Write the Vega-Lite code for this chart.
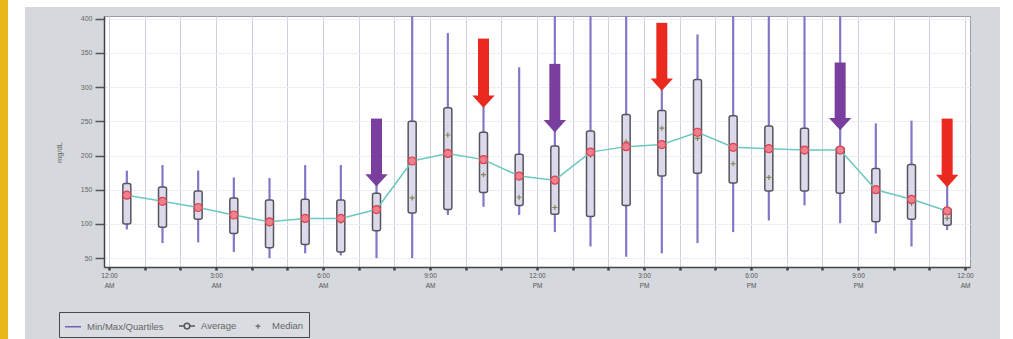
{
  "$schema": "https://vega.github.io/schema/vega-lite/v6.json",
  "background": "#d5d8dd",
  "padding": 0,
  "bounds": "flush",
  "spacing": 0,
  "config": {"font": "Liberation Sans", "view": {"stroke": null}},
  "datasets": {
    "hours": [
      {"t": 0.5, "min": 92, "q1": 100, "med": 140, "q3": 159, "max": 178, "mean": 142},
      {"t": 1.5, "min": 72, "q1": 95, "med": 133, "q3": 154, "max": 186, "mean": 133},
      {"t": 2.5, "min": 73, "q1": 107, "med": 125, "q3": 148, "max": 178, "mean": 124},
      {"t": 3.5, "min": 59, "q1": 86, "med": 112, "q3": 138, "max": 168, "mean": 113},
      {"t": 4.5, "min": 50, "q1": 65, "med": 100, "q3": 135, "max": 167, "mean": 103},
      {"t": 5.5, "min": 57, "q1": 70, "med": 106, "q3": 136, "max": 186, "mean": 108},
      {"t": 6.5, "min": 54, "q1": 59, "med": 104, "q3": 135, "max": 186, "mean": 108},
      {"t": 7.5, "min": 50, "q1": 90, "med": 118, "q3": 145, "max": 170, "mean": 121},
      {"t": 8.5, "min": 50, "q1": 116, "med": 138, "q3": 250, "max": 420, "mean": 192},
      {"t": 9.5, "min": 113, "q1": 121, "med": 230, "q3": 270, "max": 379, "mean": 203},
      {"t": 10.5, "min": 125, "q1": 146, "med": 172, "q3": 234, "max": 300, "mean": 194},
      {"t": 11.5, "min": 113, "q1": 127, "med": 139, "q3": 202, "max": 329, "mean": 170},
      {"t": 12.5, "min": 88, "q1": 114, "med": 124, "q3": 214, "max": 420, "mean": 164},
      {"t": 13.5, "min": 67, "q1": 111, "med": 200, "q3": 236, "max": 420, "mean": 205},
      {"t": 14.5, "min": 52, "q1": 127, "med": 220, "q3": 260, "max": 420, "mean": 213},
      {"t": 15.5, "min": 57, "q1": 170, "med": 240, "q3": 266, "max": 330, "mean": 216},
      {"t": 16.5, "min": 72, "q1": 174, "med": 225, "q3": 311, "max": 377, "mean": 234},
      {"t": 17.5, "min": 88, "q1": 160, "med": 188, "q3": 258, "max": 420, "mean": 212},
      {"t": 18.5, "min": 105, "q1": 148, "med": 168, "q3": 243, "max": 420, "mean": 210},
      {"t": 19.5, "min": 127, "q1": 148, "med": 205, "q3": 240, "max": 420, "mean": 208},
      {"t": 20.5, "min": 101, "q1": 145, "med": 208, "q3": 212, "max": 420, "mean": 208},
      {"t": 21.5, "min": 86, "q1": 103, "med": 148, "q3": 181, "max": 247, "mean": 150},
      {"t": 22.5, "min": 67, "q1": 107, "med": 130, "q3": 187, "max": 251, "mean": 136},
      {"t": 23.5, "min": 91, "q1": 98, "med": 108, "q3": 123, "max": 170, "mean": 119}
    ],
    "arrows": [
      {"t": 7.5, "kind": "meal", "top": 254, "tip": 155},
      {"t": 10.5, "kind": "post-meal", "top": 371, "tip": 270},
      {"t": 12.5, "kind": "meal", "top": 334, "tip": 234},
      {"t": 15.5, "kind": "post-meal", "top": 394, "tip": 295},
      {"t": 20.5, "kind": "meal", "top": 336, "tip": 237},
      {"t": 23.5, "kind": "post-meal", "top": 254, "tip": 154}
    ],
    "target": [{"low": 80, "high": 130}]
  },
  "hconcat": [
    {"width": 8, "height": 339, "data": {"values": [{}]}, "mark": {"type": "point", "opacity": 0}, "view": {"fill": "#e8b81b", "stroke": null}},
    {"width": 17, "height": 339, "data": {"values": [{}]}, "mark": {"type": "point", "opacity": 0}, "view": {"fill": "#ffffff", "stroke": null}},
    {
      "bounds": "flush",
      "spacing": 9,
      "vconcat": [
        {"width": 975, "height": 7, "data": {"values": [{}]}, "mark": {"type": "point", "opacity": 0}, "view": {"fill": "#ffffff", "stroke": null}},
        {
          "bounds": "flush",
          "spacing": 78,
          "hconcat": [
            {"width": 1, "height": 251, "data": {"values": [{}]}, "mark": {"type": "point", "opacity": 0}, "view": {"stroke": null}},
            {
              "width": 866,
              "height": 251,
              "view": {"stroke": "#9c9ca4", "fill": "#ffffff"},
              "encoding": {
                "x": {
                  "field": "t", "type": "quantitative", "title": null,
                  "scale": {"domain": [0, 24], "nice": false, "zero": false},
                  "axis": {
                    "values": [0,1,2,3,4,5,6,7,8,9,10,11,12,13,14,15,16,17,18,19,20,21,22,23,24],
                    "tickCount": 30,
                    "labelExpr": "datum.value % 3 == 0 ? [(datum.value % 12 == 0 ? '12' : '' + (datum.value % 12)) + ':00', (datum.value % 24) < 12 ? 'AM' : 'PM'] : ''",
                    "labelFontSize": 6.5, "labelColor": "#555555", "labelLineHeight": 10, "labelPadding": 2,
                    "labelFlush": false, "labelOverlap": false,
                    "tickSize": 3, "tickWidth": 2.5, "tickColor": "#444444",
                    "domainColor": "#444444", "domainWidth": 1.5,
                    "grid": true, "gridColor": "#d0d0dc", "gridWidth": 1
                  }
                }
              },
              "layer": [
                {
                  "data": {"name": "target"},
                  "mark": {"type": "rect", "color": "#acd9a6"},
                  "encoding": {
                    "x": {"datum": 0, "type": "quantitative", "title": null, "scale": {"domain": [0, 24], "nice": false, "zero": false}},
                    "x2": {"datum": 24},
                    "y": {
                      "field": "low", "type": "quantitative", "title": "mg/dL",
                      "scale": {"domain": [37, 404], "nice": false, "zero": false},
                      "axis": {
                        "values": [50, 100, 150, 200, 250, 300, 350, 400],
                        "tickCount": 10,
                        "labelOverlap": false, "labelBound": false,
                        "tickSize": 9, "tickWidth": 1.5, "tickColor": "#555555",
                        "labelFontSize": 7, "labelColor": "#666666", "labelPadding": 3,
                        "domainColor": "#444444", "domainWidth": 1.5,
                        "grid": true, "gridColor": "#ededf2",
                        "titleFontSize": 7.5, "titleFontWeight": "normal", "titleColor": "#666666",
                        "titleX": -45, "titleY": 136, "titleBaseline": "middle", "titleAlign": "center"
                      }
                    },
                    "y2": {"field": "high"}
                  }
                },
                {
                  "data": {"name": "hours"},
                  "mark": {"type": "rule", "color": "#8179c8", "strokeWidth": 2.2, "clip": true},
                  "encoding": {
                    "y": {"field": "min", "type": "quantitative", "title": "mg/dL", "scale": {"domain": [37, 404], "nice": false, "zero": false}},
                    "y2": {"field": "max"}
                  }
                },
                {
                  "data": {"name": "hours"},
                  "mark": {"type": "bar", "width": 8, "fill": "#dcd9ea", "stroke": "#55555f", "strokeWidth": 1.5, "cornerRadius": 2},
                  "encoding": {
                    "y": {"field": "q1", "type": "quantitative", "title": "mg/dL", "scale": {"domain": [37, 404], "nice": false, "zero": false}},
                    "y2": {"field": "q3"}
                  }
                },
                {
                  "data": {"name": "hours"},
                  "mark": {"type": "line", "color": "#6cc8c0", "strokeWidth": 1.5},
                  "encoding": {
                    "y": {"field": "mean", "type": "quantitative", "title": "mg/dL", "scale": {"domain": [37, 404], "nice": false, "zero": false}}
                  }
                },
                {
                  "data": {"name": "hours"},
                  "mark": {"type": "point", "shape": "M-1,0H1M0,-1V1", "size": 25, "filled": false, "stroke": "#7b7d45", "strokeWidth": 1.2, "opacity": 0.9},
                  "encoding": {
                    "y": {"field": "med", "type": "quantitative", "title": "mg/dL", "scale": {"domain": [37, 404], "nice": false, "zero": false}}
                  }
                },
                {
                  "data": {"name": "hours"},
                  "mark": {"type": "point", "shape": "circle", "filled": true, "fill": "#ef8090", "stroke": "#dc4250", "strokeWidth": 1.2, "size": 64, "opacity": 1},
                  "encoding": {
                    "y": {"field": "mean", "type": "quantitative", "title": "mg/dL", "scale": {"domain": [37, 404], "nice": false, "zero": false}}
                  }
                },
                {
                  "data": {"name": "arrows"},
                  "mark": {"type": "rule", "strokeWidth": 11, "strokeCap": "butt", "y2Offset": -8},
                  "encoding": {
                    "y": {"field": "top", "type": "quantitative", "title": "mg/dL", "scale": {"domain": [37, 404], "nice": false, "zero": false}},
                    "y2": {"field": "tip"},
                    "stroke": {"field": "kind", "type": "nominal", "scale": {"domain": ["meal", "post-meal"], "range": ["#7a3f9e", "#ea2a1f"]}, "legend": null}
                  }
                },
                {
                  "data": {"name": "arrows"},
                  "mark": {"type": "point", "shape": "M-1,-0.55L1,-0.55L0,0.55Z", "size": 500, "filled": true, "opacity": 1, "yOffset": -6},
                  "encoding": {
                    "y": {"field": "tip", "type": "quantitative", "title": "mg/dL", "scale": {"domain": [37, 404], "nice": false, "zero": false}},
                    "fill": {"field": "kind", "type": "nominal", "scale": {"domain": ["meal", "post-meal"], "range": ["#7a3f9e", "#ea2a1f"]}, "legend": null}
                  }
                },
                {
                  "data": {"name": "hours"},
                  "transform": [{"filter": "false"}],
                  "mark": {"type": "point", "filled": false, "strokeWidth": 1.5, "opacity": 1},
                  "encoding": {
                    "y": {"field": "mean", "type": "quantitative", "title": "mg/dL", "scale": {"domain": [37, 404], "nice": false, "zero": false}},
                    "color": {
                      "field": "series", "type": "nominal",
                      "scale": {"domain": ["Min/Max/Quartiles", "Average", "Median"], "range": ["#6c62b8", "#555555", "#777777"]},
                      "legend": {
                        "title": null, "orient": "none", "legendX": 59, "legendY": 312, "direction": "horizontal",
                        "fillColor": "#d9dce0", "strokeColor": "#4a4a4a", "padding": 5,
                        "symbolSize": 256, "symbolStrokeWidth": 1.5,
                        "labelFontSize": 9.5, "labelColor": "#666666", "labelOffset": 5, "columnPadding": 12
                      }
                    },
                    "shape": {
                      "field": "series", "type": "nominal",
                      "scale": {"domain": ["Min/Max/Quartiles", "Average", "Median"], "range": ["stroke", "M-1,0L-0.35,0M0.35,0L1,0M-0.35,0A0.35,0.35 0 1,0 0.35,0A0.35,0.35 0 1,0 -0.35,0", "M-0.3,0H0.3M0,-0.3V0.3"]}
                    }
                  }
                }
              ]
            }
          ]
        }
      ]
    }
  ]
}
